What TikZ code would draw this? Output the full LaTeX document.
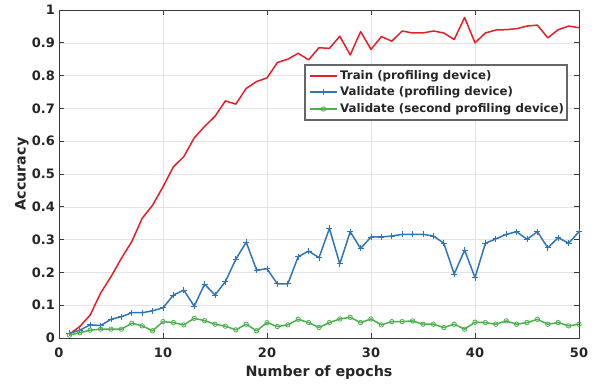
\documentclass[tikz,border=0pt]{standalone}
\usepackage{fontspec}
\setmainfont{DejaVu Sans}
\usetikzlibrary{plotmarks}
\definecolor{trainred}{RGB}{232,30,38}
\definecolor{valblue}{RGB}{46,118,188}
\definecolor{valgreen}{RGB}{74,176,74}
\definecolor{axisgray}{RGB}{60,60,60}
\definecolor{textgray}{RGB}{38,38,38}
\definecolor{gridgray}{RGB}{228,228,228}
\tikzset{
  axisbox/.style={draw=axisgray, line width=0.7pt},
  gridline/.style={draw=gridgray, line width=0.6pt},
  tickmark/.style={draw=axisgray, line width=0.7pt},
  ticklabel/.style={
    font=\fontsize{13}{13}\selectfont\bfseries,
    text=textgray,
    inner sep=0pt
  },
  axislabel/.style={
    font=\fontsize{14.3}{14.3}\selectfont\bfseries,
    text=textgray,
    inner sep=0pt
  },
  curve-train/.style={
    draw=trainred,
    line width=1.5pt,
    line join=round
  },
  curve-val/.style={
    draw=valblue,
    line width=1.5pt,
    line join=round,
    mark=+,
    mark size=3pt,
    mark options={line width=0.9pt}
  },
  curve-second/.style={
    draw=valgreen,
    line width=1.5pt,
    line join=round,
    mark=o,
    mark size=2.2pt,
    mark options={line width=0.8pt}
  },
  legendbox/.style={draw=gray!80!black, fill=white, line width=1.2pt},
  legendtext/.style={
    font=\fontsize{11.8}{11.8}\selectfont\bfseries,
    text=textgray,
    anchor=west,
    inner sep=0pt
  }
}

\begin{document}
\begin{tikzpicture}
  \useasboundingbox (0,0) rectangle (597pt,384pt);
  \begin{scope}[shift={(59pt,46pt)}, x=10.4pt, y=328pt]
    % grid
    \foreach \x in {10,20,...,40}
      \draw[gridline] (\x,0) -- (\x,1);
    \foreach \y in {0.1,0.2,...,0.9}
      \draw[gridline] (0,\y) -- (50,\y);
    % box and ticks
    \draw[axisbox] (0,0) rectangle (50,1);
    \foreach \x in {0,10,...,50} {
      \draw[tickmark] (\x,0) -- ++(0,5pt);
      \draw[tickmark] (\x,1) -- ++(0,-5pt);
      \node[ticklabel, anchor=north, yshift=-10pt] (xt\x) at (\x,0) {\x};
    }
    \foreach \y/\t in {0/0,0.1/0.1,0.2/0.2,0.3/0.3,0.4/0.4,0.5/0.5,0.6/0.6,0.7/0.7,0.8/0.8,0.9/0.9,1/1} {
      \draw[tickmark] (0,\y) -- ++(5pt,0);
      \draw[tickmark] (50,\y) -- ++(-5pt,0);
      \node[ticklabel, anchor=east, xshift=-4pt] (yt\t) at (0,\y) {\t};
    }
    \node[axislabel, anchor=base, yshift=-38pt] (xlab) at (25,0) {Number of epochs};
    \node[axislabel, rotate=90, yshift=37pt] (ylab) at (0,0.5) {Accuracy};
    % curves
    \draw[curve-train] plot coordinates {
      (1,0.012)(2,0.035)(3,0.07)(4,0.137)(5,0.187)(6,0.243)(7,0.294)(8,0.365)
      (9,0.405)(10,0.461)(11,0.522)(12,0.553)(13,0.61)(14,0.645)(15,0.676)
      (16,0.723)(17,0.713)(18,0.761)(19,0.782)(20,0.793)(21,0.84)(22,0.85)
      (23,0.868)(24,0.848)(25,0.885)(26,0.883)(27,0.92)(28,0.863)(29,0.934)
      (30,0.88)(31,0.919)(32,0.905)(33,0.936)(34,0.93)(35,0.93)(36,0.936)
      (37,0.93)(38,0.91)(39,0.977)(40,0.90)(41,0.93)(42,0.939)(43,0.94)
      (44,0.943)(45,0.951)(46,0.954)(47,0.915)(48,0.94)(49,0.951)(50,0.946)};
    \draw[curve-val] plot coordinates {
      (1,0.014)(2,0.024)(3,0.04)(4,0.038)(5,0.057)(6,0.065)(7,0.077)(8,0.077)
      (9,0.083)(10,0.092)(11,0.131)(12,0.146)(13,0.097)(14,0.164)(15,0.131)
      (16,0.172)(17,0.24)(18,0.292)(19,0.207)(20,0.211)(21,0.165)(22,0.165)
      (23,0.248)(24,0.265)(25,0.245)(26,0.334)(27,0.226)(28,0.324)(29,0.273)
      (30,0.308)(31,0.308)(32,0.311)(33,0.316)(34,0.316)(35,0.316)(36,0.311)
      (37,0.289)(38,0.195)(39,0.268)(40,0.184)(41,0.289)(42,0.302)(43,0.316)
      (44,0.324)(45,0.301)(46,0.324)(47,0.275)(48,0.306)(49,0.289)(50,0.324)};
    \draw[curve-second] plot coordinates {
      (1,0.009)(2,0.016)(3,0.024)(4,0.027)(5,0.027)(6,0.027)(7,0.045)(8,0.037)
      (9,0.022)(10,0.05)(11,0.047)(12,0.04)(13,0.06)(14,0.053)(15,0.042)
      (16,0.036)(17,0.025)(18,0.042)(19,0.022)(20,0.047)(21,0.035)(22,0.04)
      (23,0.057)(24,0.047)(25,0.032)(26,0.047)(27,0.058)(28,0.063)(29,0.047)
      (30,0.058)(31,0.04)(32,0.05)(33,0.05)(34,0.052)(35,0.042)(36,0.042)
      (37,0.032)(38,0.042)(39,0.027)(40,0.048)(41,0.047)(42,0.042)(43,0.052)
      (44,0.042)(45,0.047)(46,0.057)(47,0.042)(48,0.047)(49,0.037)(50,0.042)};
  \end{scope}
  % legend
  \draw[legendbox] (305pt,264pt) rectangle (567pt,319pt);
  \node[legendtext] (lgtrain) at (340pt,308pt) {Train (profiling device)};
  \node[legendtext] (lgval) at (340pt,292pt) {Validate (profiling device)};
  \node[legendtext] (lgsecond) at (340pt,275pt) {Validate (second profiling device)};
  \foreach \n in {train,val,second} {
    \coordinate (\n-a) at ([xshift=-30pt]lg\n.west);
    \coordinate (\n-m) at ([xshift=-16.5pt]lg\n.west);
    \coordinate (\n-b) at ([xshift=-3pt]lg\n.west);
  }
  \draw[curve-train] (train-a) -- (train-b);
  \draw[curve-val] plot[mark indices={2}] coordinates {(val-a) (val-m) (val-b)};
  \draw[curve-second] plot[mark indices={2}] coordinates {(second-a) (second-m) (second-b)};
\end{tikzpicture}
\end{document}
